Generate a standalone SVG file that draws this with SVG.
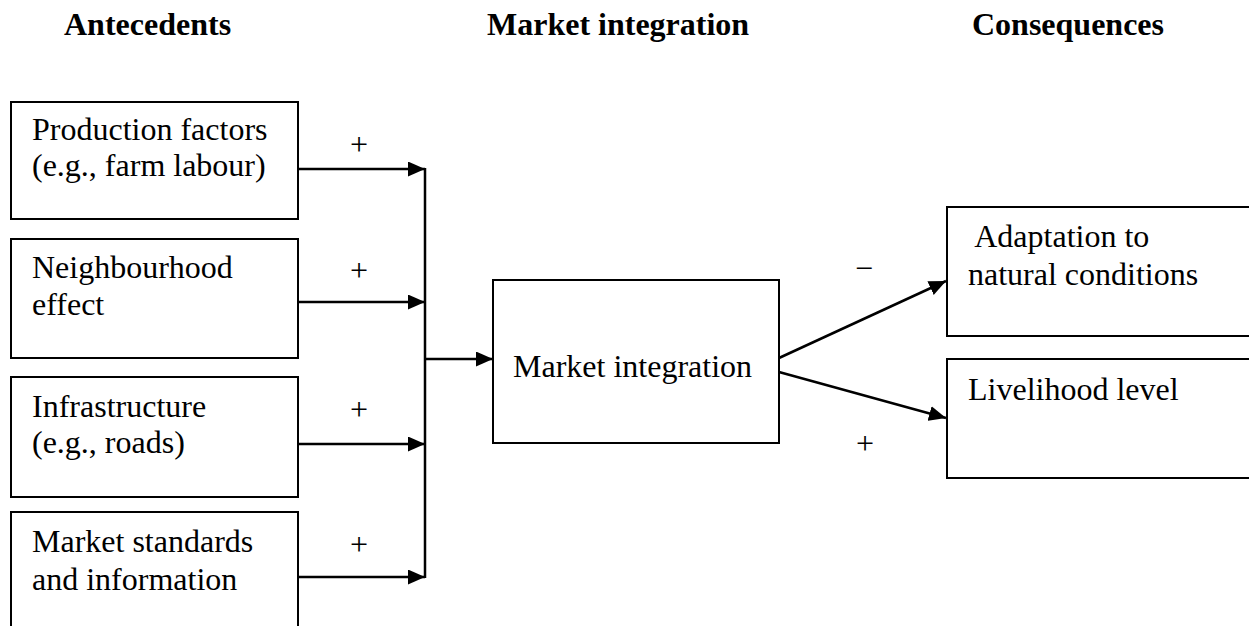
<svg xmlns="http://www.w3.org/2000/svg" width="1249" height="626" viewBox="0 0 1249 626">
  <style>
    text { font-family: "Liberation Serif", Tinos, "DejaVu Serif", serif; font-size: 32px; fill: #000; }
    .head { font-weight: bold; }
    .box { fill: #fff; stroke: #000; stroke-width: 2; }
    .link { fill: none; stroke: #000; stroke-width: 2.5; }
  </style>
  <defs>
    <marker id="arrow" markerUnits="userSpaceOnUse" markerWidth="17" markerHeight="15" refX="17" refY="7.5" orient="auto">
      <path d="M0,0 L17,7.5 L0,15 Z" fill="#000"/>
    </marker>
  </defs>

  <rect width="1249" height="626" fill="#fff"/>

  <!-- Column headings -->
  <g id="headings">
    <text class="head" x="64" y="35">Antecedents</text>
    <text class="head" x="487" y="35">Market integration</text>
    <text class="head" x="972" y="35">Consequences</text>
  </g>

  <!-- Antecedent nodes -->
  <g id="production-factors">
    <rect class="box" x="11" y="102" width="287" height="117"/>
    <text x="32" y="140">Production factors</text>
    <text x="32" y="176">(e.g., farm labour)</text>
  </g>
  <g id="neighbourhood-effect">
    <rect class="box" x="11" y="239" width="287" height="119"/>
    <text x="32" y="278">Neighbourhood</text>
    <text x="32" y="315">effect</text>
  </g>
  <g id="infrastructure">
    <rect class="box" x="11" y="377" width="287" height="120"/>
    <text x="32" y="417">Infrastructure</text>
    <text x="32" y="453">(e.g., roads)</text>
  </g>
  <g id="market-standards">
    <rect class="box" x="11" y="512" width="287" height="130"/>
    <text x="32" y="552">Market standards</text>
    <text x="32" y="590">and information</text>
  </g>

  <!-- Central node -->
  <g id="market-integration">
    <rect class="box" x="493" y="280" width="286" height="163"/>
    <text x="513" y="377">Market integration</text>
  </g>

  <!-- Consequence nodes -->
  <g id="adaptation">
    <rect class="box" x="947" y="207" width="320" height="129"/>
    <text x="968" y="247" xml:space="preserve"> Adaptation to</text>
    <text x="968" y="285">natural conditions</text>
  </g>
  <g id="livelihood">
    <rect class="box" x="947" y="359" width="320" height="119"/>
    <text x="968" y="400">Livelihood level</text>
  </g>

  <!-- Connectors -->
  <g id="connectors">
    <line class="link" x1="298" y1="169" x2="425" y2="169" marker-end="url(#arrow)"/>
    <line class="link" x1="298" y1="302" x2="425" y2="302" marker-end="url(#arrow)"/>
    <line class="link" x1="298" y1="444" x2="425" y2="444" marker-end="url(#arrow)"/>
    <line class="link" x1="298" y1="577" x2="425" y2="577" marker-end="url(#arrow)"/>
    <line class="link" x1="425" y1="168" x2="425" y2="578"/>
    <line class="link" x1="425" y1="359" x2="493" y2="359" marker-end="url(#arrow)"/>
    <line class="link" x1="779" y1="358" x2="946" y2="281" marker-end="url(#arrow)"/>
    <line class="link" x1="779" y1="372" x2="946" y2="418" marker-end="url(#arrow)"/>

    <!-- sign labels -->
    <text x="359" y="155" text-anchor="middle">+</text>
    <text x="359" y="281" text-anchor="middle">+</text>
    <text x="359" y="420" text-anchor="middle">+</text>
    <text x="359" y="555" text-anchor="middle">+</text>
    <text x="864" y="279" text-anchor="middle">−</text>
    <text x="865" y="454" text-anchor="middle">+</text>
  </g>
</svg>
